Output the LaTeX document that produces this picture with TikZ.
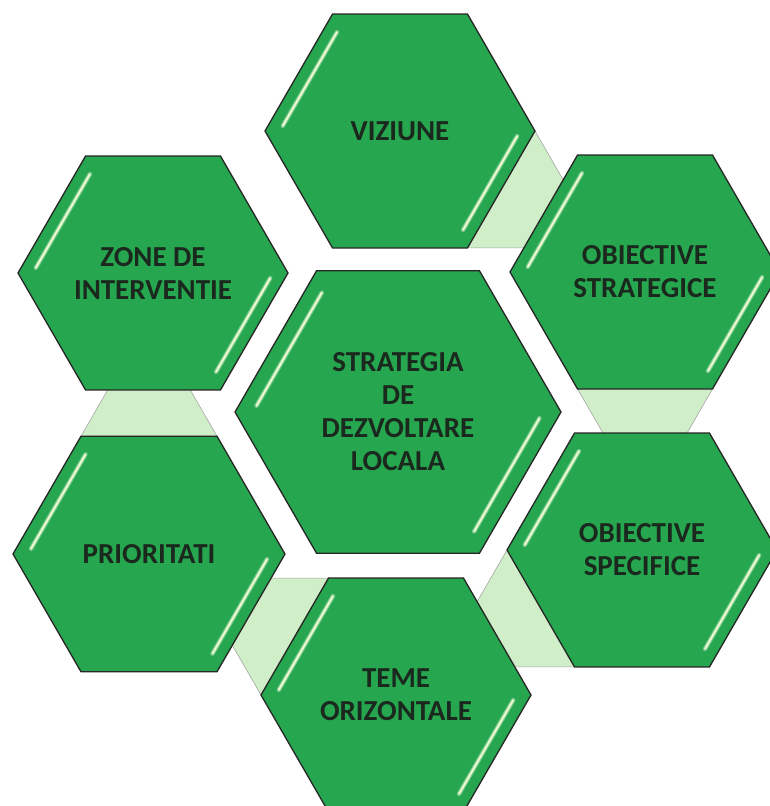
\documentclass[tikz,border=0pt]{standalone}
\usepackage{fontspec}
\setmainfont{Carlito}
\usetikzlibrary{shapes.geometric, calc, backgrounds}
\definecolor{hexGreen}{RGB}{38, 166, 78}
\definecolor{hexPale}{RGB}{208, 238, 200}
\definecolor{hexShine}{RGB}{236, 250, 206}
\definecolor{hexText}{RGB}{26, 40, 30}

\begin{document}
\begin{tikzpicture}[x=1pt, y=1pt,
    hexbox/.style={regular polygon, regular polygon sides=6, draw=black!85, line width=1.3pt,
      fill=hexGreen, inner sep=0pt, outer sep=0pt, text=hexText, align=center,
      font=\fontsize{29}{33}\selectfont\bfseries},
    linkbox/.style={fill=hexPale, draw=black!35, line width=0.6pt},
    glow/.style={hexGreen!45!white, line width=4.5pt, line cap=round, opacity=0.7},
    shine/.style={hexShine, line width=2pt, line cap=round}]
  \useasboundingbox (0,0) rectangle (770,-806);

  % the seven hexagons with their highlights
  \foreach \name/\pos/\r/\txt in {
      viz/{400,-131}/135/VIZIUNE,
      obs/{645,-272}/135/{OBIECTIVE\\STRATEGICE},
      obsp/{642,-550}/135/{OBIECTIVE\\SPECIFICE},
      teme/{396,-695}/135/{TEME\\ORIZONTALE},
      prio/{149,-554}/136/PRIORITATI,
      zone/{153,-273}/135/{ZONE DE\\INTERVENTIE},
      sdl/{398,-412}/163/{STRATEGIA\\DE\\DEZVOLTARE\\LOCALA}}
  {
    \node[hexbox, minimum size=2*\r] (\name) at (\pos) {\txt};
    \begin{scope}[shift={(\pos)}]
      \draw[glow] ($(120:0.89*\r)!0.05!(180:0.89*\r)$) -- ($(120:0.89*\r)!0.95!(180:0.89*\r)$);
      \draw[glow] ($(0:0.89*\r)!0.05!(300:0.89*\r)$) -- ($(0:0.89*\r)!0.95!(300:0.89*\r)$);
      \draw[shine] ($(120:0.89*\r)!0.05!(180:0.89*\r)$) -- ($(120:0.89*\r)!0.95!(180:0.89*\r)$);
      \draw[shine] ($(0:0.89*\r)!0.05!(300:0.89*\r)$) -- ($(0:0.89*\r)!0.95!(300:0.89*\r)$);
    \end{scope}
  }

  % pale links between neighbours, behind the hexagons
  \begin{scope}[on background layer]
    \fill[white] (0,0) rectangle (770,-806);
    \draw[linkbox] (viz.corner 6) -- ($(viz.corner 6)+(-60:80)$) -- ($(viz.corner 5)+(80,0)$) -- (viz.corner 5) -- cycle;
    \draw[linkbox] (obs.corner 4) -- ($(obs.corner 4)+(-60:80)$) -- ($(obs.corner 5)+(-120:80)$) -- (obs.corner 5) -- cycle;
    \draw[linkbox] (obsp.corner 3) -- ($(obsp.corner 3)+(-120:80)$) -- ($(obsp.corner 4)+(-80,0)$) -- (obsp.corner 4) -- cycle;
    \draw[linkbox] (teme.corner 2) -- ($(teme.corner 2)+(-80,0)$) -- ($(teme.corner 3)+(120:80)$) -- (teme.corner 3) -- cycle;
    \draw[linkbox] (prio.corner 2) -- ($(prio.corner 2)+(60:80)$) -- ($(prio.corner 1)+(120:80)$) -- (prio.corner 1) -- cycle;
  \end{scope}
\end{tikzpicture}
\end{document}
